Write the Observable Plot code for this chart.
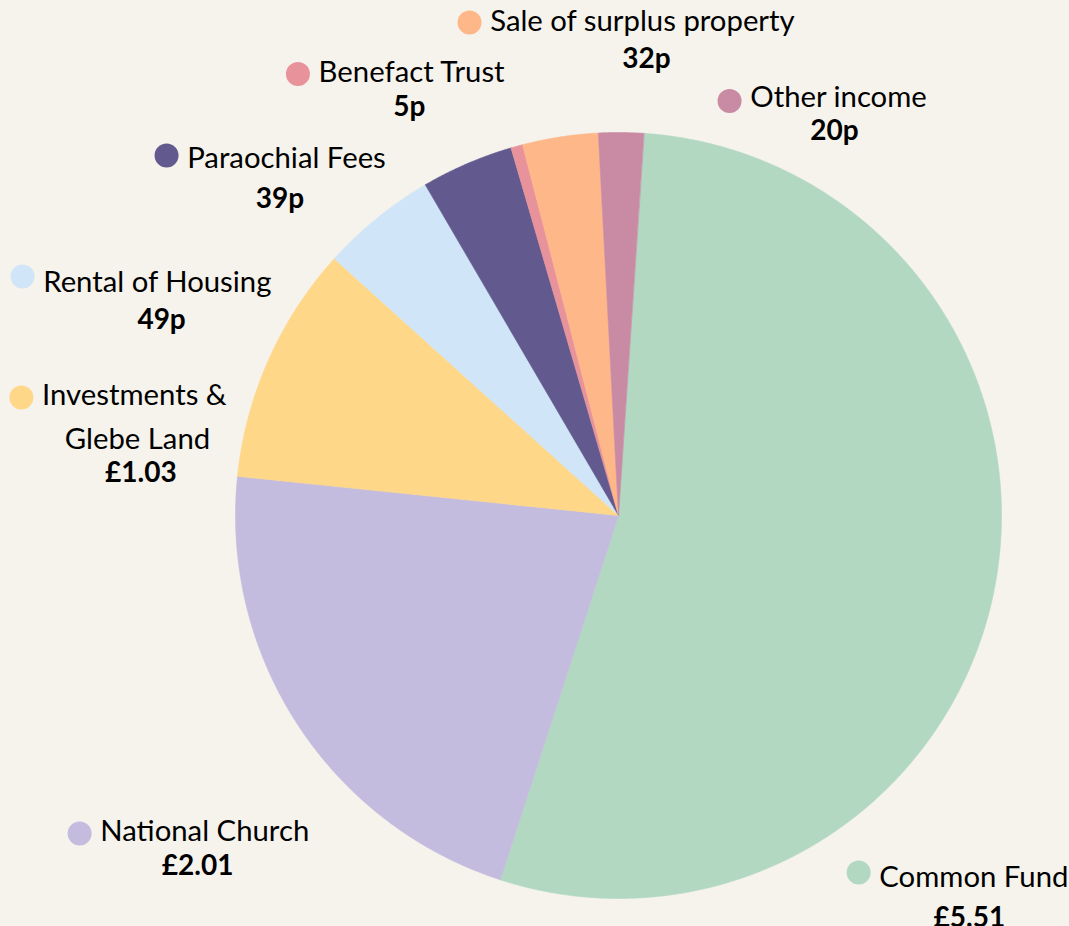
<!DOCTYPE html>
<html><head><meta charset="utf-8">
<script src="https://cdn.jsdelivr.net/npm/d3@7"></script>
<script src="https://cdn.jsdelivr.net/npm/@observablehq/plot@0.6"></script>
<style>
html,body{margin:0;padding:0;background:#f6f3ec;}
#chart{width:1069px;height:926px;overflow:hidden;}
#chart svg{display:block;}
</style></head><body><div id="chart"></div>
<script>
// ---- data ----
const categories = ["Common Fund", "National Church", "Investments & Glebe Land", "Rental of Housing", "Paraochial Fees", "Benefact Trust", "Sale of surplus property", "Other income"];
const nameLines = [["Common Fund"], ["National Church"], ["Investments &", "Glebe Land"], ["Rental of Housing"], ["Paraochial Fees"], ["Benefact Trust"], ["Sale of surplus property"], ["Other income"]];
const valueLabels = ["£5.51", "£2.01", "£1.03", "49p", "39p", "5p", "32p", "20p"];
// slice sizes as drawn in the picture (per £10)
const sliceValues = [5.41, 2.17, 1.01, 0.49, 0.39, 0.05, 0.32, 0.19];
const colors = ["#b2d8c2", "#c4bcde", "#fed789", "#d0e5f7", "#625a8e", "#e8939b", "#feb789", "#c98aa4"];

// ---- layout (pie-radius units, y up, origin at pie centre) ----
const startDeg = 3.8;
const labelLayout = [
  {dot: [0.627, -0.932], nameDy: 5, value: [0.916, -1.050]},
  {dot: [-1.407, -0.830], nameDy: -2, value: [-1.099, -0.915]},
  {dot: [-1.559, 0.308], nameDy: -2, value: [-1.247, 0.112], line2: [-1.256, 0.199]},
  {dot: [-1.556, 0.624], nameDy: 6, value: [-1.193, 0.510]},
  {dot: [-1.180, 0.940], nameDy: 3, value: [-0.884, 0.827]},
  {dot: [-0.837, 1.153], nameDy: -1, value: [-0.546, 1.066]},
  {dot: [-0.389, 1.287], nameDy: -1, value: [0.073, 1.192]},
  {dot: [0.290, 1.082], nameDy: -3, value: [0.564, 1.003]}
];
const nameGap = 0.054;

const W = 1069, H = 926, cx = 618, cy = 515, R = 383;

// ---- build slice polygons from the data via d3.pie ----
const pie = d3.pie().sort(null).value(d => d.v)
  .startAngle(startDeg * Math.PI / 180)
  .endAngle(startDeg * Math.PI / 180 + 2 * Math.PI);
const arcs = pie(categories.map((c, i) => ({c, v: sliceValues[i], color: colors[i]})));
const slices = arcs.map(a => {
  const pts = [{x: 0, y: 0}];
  const n = Math.max(4, Math.ceil((a.endAngle - a.startAngle) / 0.005));
  for (let k = 0; k <= n; k++) {
    const t = a.startAngle + (a.endAngle - a.startAngle) * k / n;
    pts.push({x: Math.sin(t), y: Math.cos(t)});
  }
  return {color: a.data.color, pts};
});

// ---- label tables ----
const dots = categories.map((c, i) => ({x: labelLayout[i].dot[0], y: labelLayout[i].dot[1], color: colors[i]}));
const names = [];
categories.forEach((c, i) => {
  const L = labelLayout[i];
  names.push({x: L.dot[0] + nameGap, y: L.dot[1] - L.nameDy / R, text: nameLines[i][0], anchor: "start"});
  if (nameLines[i].length > 1) names.push({x: L.line2[0], y: L.line2[1], text: nameLines[i][1], anchor: "middle"});
});
const values = categories.map((c, i) => ({x: labelLayout[i].value[0], y: labelLayout[i].value[1], text: valueLabels[i]}));

const font = "Lato, 'Open Sans', sans-serif";

const chart = Plot.plot({
  width: W, height: H,
  margin: 0,
  style: {background: "#f6f3ec", fontFamily: font, overflow: "visible"},
  x: {domain: [-cx / R, (W - cx) / R], range: [0, W], axis: null},
  y: {domain: [(cy - H) / R, cy / R], range: [H, 0], axis: null},
  marks: [
    ...slices.map(s => Plot.line(s.pts, {x: "x", y: "y", fill: s.color, stroke: s.color, strokeWidth: 0.6, curve: "linear-closed"})),
    Plot.dot(dots, {x: "x", y: "y", r: 12, fill: "color", stroke: null}),
    Plot.text(names.filter(d => d.anchor === "start"), {x: "x", y: "y", text: "text", textAnchor: "start", lineAnchor: "middle", fontSize: 29.3, fill: "#000"}),
    Plot.text(names.filter(d => d.anchor === "middle"), {x: "x", y: "y", text: "text", textAnchor: "middle", lineAnchor: "middle", fontSize: 29.3, fill: "#000"}),
    Plot.text(values, {x: "x", y: "y", text: "text", textAnchor: "middle", lineAnchor: "middle", fontSize: 28, fontWeight: "bold", fill: "#000"})
  ]
});
document.getElementById("chart").appendChild(chart);
</script></body></html>
